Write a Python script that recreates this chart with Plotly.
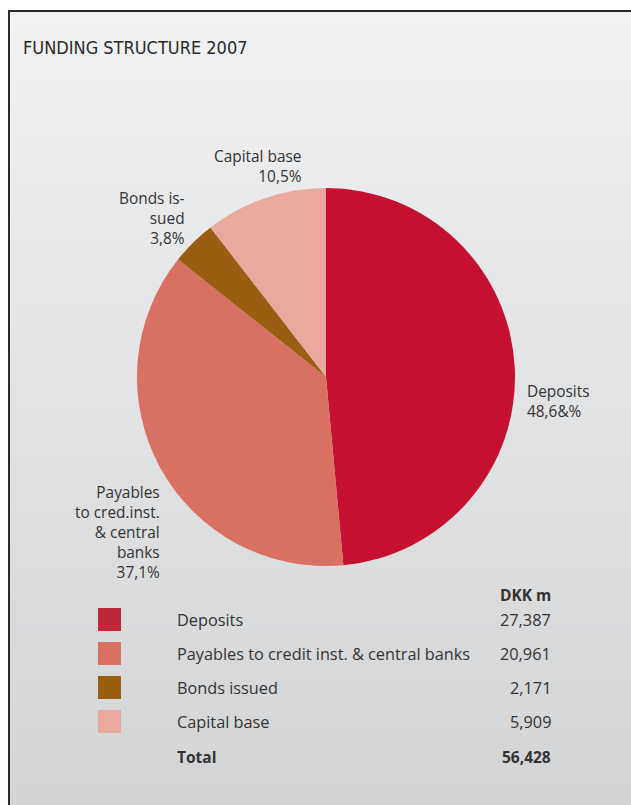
import plotly.graph_objects as go

# ---- data ----
categories = ["Deposits", "Payables to credit inst. & central banks", "Bonds issued", "Capital base"]
values_dkk_m = [27387, 20961, 2171, 5909]
value_labels = ["27,387", "20,961", "2,171", "5,909"]
total_label = "56,428"
pie_label_lines = [["Deposits", "48,6&%"],
                   ["Payables", "to cred.inst.", "& central", "banks", "37,1%"],
                   ["Bonds is-", "sued", "3,8%"],
                   ["Capital base", "10,5%"]]
colors = ["#c5112f", "#d87163", "#9b5d12", "#e9a99c"]
swatch_colors = ["#bf2838", "#d87163", "#9b5d12", "#e9a99c"]
title_text = "FUNDING STRUCTURE 2007"

W, H = 631, 805
def px(x): return x / W
def py(y): return 1 - y / H

FONT = "Open Sans"
TXT = "#333333"

fig = go.Figure()

# pie: centre (326,377), radius 189
cx, cy, r = 326, 377, 189
fig.add_trace(go.Pie(
    values=values_dkk_m, labels=categories, sort=False, direction="clockwise",
    rotation=0, marker=dict(colors=colors, line=dict(width=0)),
    textinfo="none", hoverinfo="none", showlegend=False,
    domain=dict(x=[px(cx - r), px(cx + r)], y=[py(cy + r), py(cy - r)]),
))

shapes = []
# gradient background
y0, y1 = 11, H
n = 120
top = (240, 241, 242)
bot = (211, 212, 214)
for i in range(n):
    t = i / (n - 1)
    c = tuple(round(top[k] + (bot[k] - top[k]) * t) for k in range(3))
    ya = y0 + (y1 - y0) * i / n
    yb = y0 + (y1 - y0) * (i + 1) / n + 0.5
    shapes.append(dict(type="rect", xref="paper", yref="paper", layer="below",
                       x0=px(9), x1=1, y0=py(yb), y1=py(ya),
                       fillcolor="rgb(%d,%d,%d)" % c, line=dict(width=0)))
# border
shapes.append(dict(type="path", xref="paper", yref="paper", layer="above",
                   path="M %f %f L %f %f L %f %f" % (px(9), py(H + 5), px(9), py(11), 1.01, py(11)),
                   line=dict(color="#2a2a2a", width=2)))

annotations = []
annotations.append(dict(text=title_text, x=px(21), y=py(47), xref="paper", yref="paper",
                        xanchor="left", yanchor="middle", showarrow=False,
                        font=dict(family="DejaVu Sans Condensed, Roboto, sans-serif", size=18, color="#2a2a2a")))

# pie labels: (x, block-centre y, anchor)
label_pos = [(526, 401, "left"), (161, 532, "right"), (186, 218, "right"), (302, 166.5, "right")]
for lines, (lx, ly, anc) in zip(pie_label_lines, label_pos):
    annotations.append(dict(text="<br>".join(lines), x=px(lx), y=py(ly), xref="paper", yref="paper",
                            xanchor=anc, yanchor="middle", align=anc, showarrow=False,
                            borderpad=0, font=dict(family=FONT, size=15.4, color=TXT)))

# legend table
row_y = [620, 654, 688, 722]
LF = 16.3
annotations.append(dict(text="<b>DKK m</b>", x=px(553), y=py(595), xref="paper", yref="paper",
                        xanchor="right", yanchor="middle", showarrow=False,
                        font=dict(family=FONT, size=15.5, color=TXT)))
for cat, vl, sc, ry in zip(categories, value_labels, swatch_colors, row_y):
    shapes.append(dict(type="rect", xref="paper", yref="paper",
                       x0=px(98), x1=px(121), y0=py(ry + 11), y1=py(ry - 12),
                       fillcolor=sc, line=dict(width=0)))
    annotations.append(dict(text=cat, x=px(175), y=py(ry), xref="paper", yref="paper",
                            xanchor="left", yanchor="middle", showarrow=False,
                            font=dict(family=FONT, size=LF, color=TXT)))
    annotations.append(dict(text=vl, x=px(553), y=py(ry), xref="paper", yref="paper",
                            xanchor="right", yanchor="middle", showarrow=False,
                            font=dict(family=FONT, size=LF, color=TXT)))
annotations.append(dict(text="<b>Total</b>", x=px(175), y=py(757), xref="paper", yref="paper",
                        xanchor="left", yanchor="middle", showarrow=False,
                        font=dict(family=FONT, size=15.5, color=TXT)))
annotations.append(dict(text="<b>" + total_label + "</b>", x=px(553), y=py(757), xref="paper", yref="paper",
                        xanchor="right", yanchor="middle", showarrow=False,
                        font=dict(family=FONT, size=15.5, color=TXT)))

fig.update_layout(width=W, height=H, margin=dict(l=0, r=0, t=0, b=0),
                  paper_bgcolor="white", plot_bgcolor="white",
                  shapes=shapes, annotations=annotations)
fig.write_html("out.html")
